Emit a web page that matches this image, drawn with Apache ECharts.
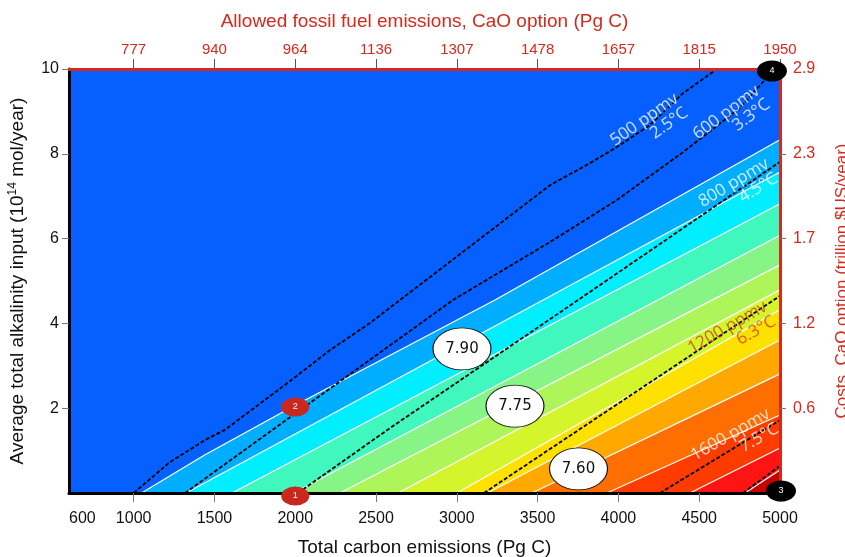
<!DOCTYPE html>
<html>
<head>
<meta charset="utf-8">
<script src="https://cdn.jsdelivr.net/npm/echarts@6/dist/echarts.min.js"></script>
<style>
html,body{margin:0;padding:0;background:#fff;overflow:hidden;}
#chart{width:845px;height:557px;}
</style>
</head>
<body>
<div id="chart"></div>
<script>
// ---------- DATA ----------
const bottomTickValues = [1000, 1500, 2000, 2500, 3000, 3500, 4000, 4500, 5000];
const bottomLabelValues = [600, 1000, 1500, 2000, 2500, 3000, 3500, 4000, 4500, 5000];
const topTickLabels = ['777', '940', '964', '1136', '1307', '1478', '1657', '1815', '1950'];
const rightTickValues = [2, 4, 6, 8, 10];
const rightTickLabels = ['0.6', '1.2', '1.7', '2.3', '2.9'];

// pH contour lines (white), from the blue side to the red side: [carbon, alkalinity]
const phLine1 = [[1049, 0], [1442, 0.90], [1980, 2.03], [3236, 4.55], [5000, 8.33]];
const phLine2 = [[1324, 0], [5000, 7.57]];
const phLine3 = [[1609, 0], [5000, 6.82]];
const phLine4 = [[1990, 0], [5000, 6.08]];
const phLine5 = [[2277, 0], [5000, 5.38]];
const phLine6 = [[2636, 0], [5000, 4.79]];
const phLine7 = [[3001, 0], [5000, 4.32]];
const phLine8 = [[3190, 0], [5000, 3.61]];
const phLine9 = [[3465, 0], [5000, 2.81]];
const phLine10 = [[3929, 0], [5000, 1.84]];
const phLine11 = [[4443, 0], [5000, 1.06]];
const phLine12 = [[4783, 0], [5000, 0.54]];

// CO2 (ppmv) contour lines (dashed)
const ppm500 = [[1000, 0], [1225, 0.73], [1442, 1.25], [1565, 1.49], [1968, 2.64], [2215, 3.37], [2463, 4.01], [2648, 4.55], [3577, 7.26], [3824, 7.78], [3991, 8.16], [4196, 8.68], [4400, 9.43], [4610, 10]];
const ppm600 = [[1318, 0], [1980, 1.82], [2976, 4.55], [3577, 5.92], [3991, 6.91], [4400, 8.04], [4752, 9.08], [4950, 9.93]];
const ppm800 = [[2017, 0], [2586, 1.53], [3750, 4.55], [5000, 7.81]];
const ppm1200 = [[3168, 0], [5000, 4.65]];
const ppm1600 = [[4257, 0], [5000, 1.72]];
const ppm2000 = [[4771, 0], [5000, 0.64]];

// pH contour labels
const phLabelNames = ['7.90', '7.75', '7.60'];
const phLabelPos = [[3032, 3.40], [3360, 2.05], [3753, 0.57]];

// ppmv / warming labels
const ppmvTexts = ['500 ppmv\n2.5°C', '600 ppmv\n3.3°C', '800 ppmv\n4.5°C', '1200 ppmv\n6.3°C', '1600 ppmv\n7.5°C'];
const ppmvPos = [[4390, 9.17], [4895, 9.37], [4950, 7.62], [4938, 4.25], [4957, 1.72]];
const ppmvAngles = [35, 37, 31, 30, 30];

// numbered points
const redPoints = [[2000, 0, '1'], [2000, 2.03, '2']];
const blackPoints = [[5000, 0, '3'], [4950, 10, '4']];

// ---------- STYLE ----------
const RED = '#D42A1E';
const bandColors = ['#0560FF', '#00AEFF', '#00EEFF', '#40F7BE', '#86F586', '#AEF55A', '#D4F52C',
  '#FFE100', '#FFA800', '#FF6E00', '#FF3C00', '#FF1414', '#C80000'];
const phLines = [phLine1, phLine2, phLine3, phLine4, phLine5, phLine6, phLine7, phLine8, phLine9, phLine10, phLine11, phLine12];
const ppmLines = [ppm500, ppm600, ppm800, ppm1200, ppm1600, ppm2000];
const ppmvColors = ['#fff', '#fff', '#fff', '#C8401A', '#fff'];
const SANS = '"Liberation Sans", Arial, sans-serif';

const series = [];
phLines.forEach((d, i) => {
  series.push({
    type: 'line', data: d, symbol: 'none', silent: true, z: 2,
    lineStyle: { color: '#ffffff', width: 1.2 },
    areaStyle: { color: bandColors[i + 1], opacity: 1 }
  });
});
ppmLines.forEach(d => {
  series.push({
    type: 'line', data: d, symbol: 'none', silent: true, z: 3,
    lineStyle: { color: '#000', width: 1.8, type: [4, 2] }
  });
});
series.push({
  type: 'scatter', z: 6, silent: true,
  symbol: 'circle', symbolSize: [58, 42],
  itemStyle: { color: '#fff', borderColor: '#111', borderWidth: 1, opacity: 1 },
  label: { show: true, position: 'inside', formatter: '{b}', color: '#111', fontSize: 15, fontFamily: '"DejaVu Sans", sans-serif' },
  data: phLabelPos.map((p, i) => ({ name: phLabelNames[i], value: p }))
});
series.push({
  type: 'scatter', z: 7, silent: true, clip: false,
  symbolSize: 0,
  data: ppmvPos.map((p, i) => ({
    value: p,
    label: {
      show: true, formatter: ppmvTexts[i], rotate: ppmvAngles[i], color: ppmvColors[i],
      position: [0, 0], align: 'right', verticalAlign: 'middle',
      fontSize: 17, lineHeight: 17, fontFamily: '"Open Sans", sans-serif'
    }
  }))
});
series.push({
  type: 'scatter', z: 10, silent: true, clip: false,
  symbol: 'circle', symbolSize: [28, 19],
  itemStyle: { color: '#C8281E', opacity: 1 },
  label: { show: true, position: 'inside', formatter: '{b}', color: '#fff', fontSize: 9, fontFamily: SANS },
  data: redPoints.map(p => ({ name: p[2], value: [p[0], p[1]], symbolOffset: p[1] === 0 ? [0, 3] : [0, 0] }))
});
series.push({
  type: 'scatter', z: 10, silent: true, clip: false,
  symbol: 'circle', symbolSize: [30, 21],
  itemStyle: { color: '#000', opacity: 1 },
  label: { show: true, position: 'inside', formatter: '{b}', color: '#fff', fontSize: 9, fontFamily: SANS },
  data: blackPoints.map(p => ({ name: p[2], value: [p[0], p[1]], symbolOffset: p[1] === 0 ? [1, -2] : [0, 2] }))
});

const chart = echarts.init(document.getElementById('chart'), null, { renderer: 'canvas' });
chart.setOption({
  animation: false,
  grid: {
    left: 69, right: 65, top: 69, bottom: 64, show: true, backgroundColor: bandColors[0], borderWidth: 0,
    containLabel: false, outerBoundsMode: 'none'
  },
  xAxis: [
    {
      type: 'value', position: 'bottom', min: 600, max: 5000, z: 5,
      axisLine: { show: true, onZero: false, lineStyle: { color: '#000', width: 3 } },
      axisTick: { show: true, customValues: bottomTickValues, length: 9, lineStyle: { color: '#777', width: 1 } },
      axisLabel: {
        customValues: bottomLabelValues, margin: 18, fontSize: 16, color: '#111', fontFamily: SANS, alignMinLabel: 'left',
        formatter: v => String(v)
      },
      splitLine: { show: false },
      name: 'Total carbon emissions (Pg C)', nameLocation: 'middle', nameGap: 45,
      nameTextStyle: { fontSize: 19, color: '#111', fontFamily: SANS }
    },
    {
      type: 'value', position: 'top', min: 600, max: 5000, z: 5,
      axisLine: { show: true, onZero: false, lineStyle: { color: RED, width: 3 } },
      axisTick: { show: true, customValues: bottomTickValues, length: 10, lineStyle: { color: '#555', width: 1 } },
      axisLabel: {
        customValues: bottomTickValues, margin: 12, fontSize: 15, color: RED, fontFamily: SANS,
        formatter: v => topTickLabels[bottomTickValues.indexOf(v)]
      },
      splitLine: { show: false },
      name: 'Allowed fossil fuel emissions, CaO option (Pg C)', nameLocation: 'middle', nameGap: 38,
      nameTextStyle: { fontSize: 19, color: RED, fontFamily: SANS }
    }
  ],
  yAxis: [
    {
      type: 'value', position: 'left', min: 0, max: 10, interval: 2, z: 5,
      axisLine: { show: true, onZero: false, lineStyle: { color: '#000', width: 3 } },
      axisTick: { show: true, length: 7, lineStyle: { color: '#777', width: 1 } },
      axisLabel: { showMinLabel: false, margin: 10, fontSize: 16, color: '#111', fontFamily: SANS },
      splitLine: { show: false },
      name: '{n|Average total alkalinity input (10}{s|14}{n| mol/year)}',
      nameLocation: 'middle', nameGap: 40, nameRotate: 90,
      nameTextStyle: {
        rich: {
          n: { fontSize: 19, lineHeight: 22, color: '#111', fontFamily: SANS },
          s: { fontSize: 12, lineHeight: 22, verticalAlign: 'top', color: '#111', fontFamily: SANS }
        }
      }
    },
    {
      type: 'value', position: 'right', min: 0, max: 10, interval: 2, z: 5,
      axisLine: { show: true, onZero: false, lineStyle: { color: RED, width: 3 } },
      axisTick: { show: true, length: 6, lineStyle: { color: '#777', width: 1 } },
      axisLabel: {
        showMinLabel: false, margin: 13, fontSize: 16, color: RED, fontFamily: SANS,
        formatter: v => { const k = rightTickValues.indexOf(v); return k >= 0 ? rightTickLabels[k] : ''; }
      },
      splitLine: { show: false },
      name: 'Costs, CaO option (trillion $US/year)', nameLocation: 'middle', nameGap: 54, nameRotate: 90,
      nameTextStyle: { fontSize: 17, color: RED, fontFamily: SANS }
    }
  ],
  series: series
});
</script>
</body>
</html>
